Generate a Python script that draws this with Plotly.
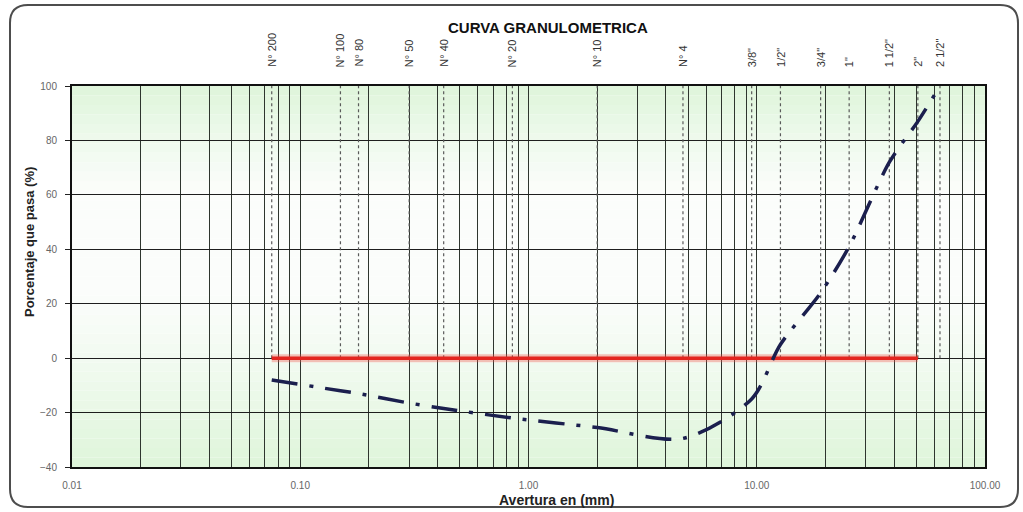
import math
import plotly.graph_objects as go

# Sieve series (opening in mm) and their labels
sieve_labels = ['N° 200', 'N° 100', 'N° 80', 'N° 50', 'N° 40', 'N° 20', 'N° 10', 'N° 4',
                '3/8"', '1/2"', '3/4"', '1"', '1 1/2"', '2"', '2 1/2"']
sieve_mm = [0.075, 0.15, 0.18, 0.3, 0.425, 0.85, 2.0, 4.75,
            9.5, 12.7, 19.05, 25.4, 38.1, 50.8, 63.5]

# Percent passing for each sieve
pct_pass = [-8, -12, -13, -16.5, -18.5, -22, -25.5, -29.5,
            -15, 5, 24, 41, 72, 87, 100]

# Reference (zero) line over the sieve range
ref_mm = sieve_mm[:-1]
ref_pct = [0] * len(ref_mm)

# Axis ticks
x_major = [0.01, 0.1, 1, 10, 100]
x_major_text = ['0.01', '0.10', '1.00', '10.00', '100.00']
y_ticks = [-40, -20, 0, 20, 40, 60, 80, 100]

W, H = 1023, 512
ML, MR, MT, MB = 72, 38, 86, 45
PW, PH = W - ML - MR, H - MT - MB

FONT = 'Liberation Sans, Arial, sans-serif'

# Log grid: every integer multiple within each decade
grid_vals, grid_text = [], []
for e in range(-2, 2):
    for k in range(1, 10):
        v = k * 10 ** e
        grid_vals.append(v)
        grid_text.append(x_major_text[x_major.index(v)] if k == 1 else '')
grid_vals.append(100)
grid_text.append('100.00')

fig = go.Figure()

# Dotted sieve lines from 0 to 100 %
dx, dy = [], []
for s in sieve_mm:
    dx += [s, s, None]
    dy += [0, 100, None]
fig.add_trace(go.Scatter(x=dx, y=dy, mode='lines', hoverinfo='skip',
                         line=dict(color='#5a5a5a', width=1.2, dash='dot'),
                         showlegend=False))

# Zero reference line
fig.add_trace(go.Scatter(x=ref_mm, y=ref_pct, mode='lines',
                         line=dict(color='rgba(240,80,70,0.35)', width=8),
                         hoverinfo='skip', showlegend=False))
fig.add_trace(go.Scatter(x=ref_mm, y=ref_pct, mode='lines',
                         line=dict(color='#e3261f', width=3.5),
                         showlegend=False))

# Grading curve
fig.add_trace(go.Scatter(x=sieve_mm, y=pct_pass, mode='lines',
                         line=dict(color='#1b1f4e', width=3.5, shape='spline',
                                   smoothing=0.8, dash='26px,12px,4px,12px'),
                         showlegend=False))

# Background: green at the edges fading to white in the middle
shapes = []
nb = 40
for i in range(nb):
    t = (i + 0.5) / nb  # 0 bottom .. 1 top
    c = 0.62
    d = abs(t - c) / (c if t < c else 1 - c)
    g = min(1.0, max(0.0, (d - 0.25) / 0.75)) ** 1.2
    r = int(round(251 - (251 - 222) * g))
    gg = int(round(253 - (253 - 245) * g))
    b = int(round(251 - (251 - 218) * g))
    shapes.append(dict(type='rect', xref='x domain', yref='y domain',
                       x0=0, x1=1, y0=i / nb, y1=(i + 1) / nb,
                       fillcolor=f'rgb({r},{gg},{b})', line=dict(width=0),
                       layer='below'))


# Rounded outer frame (pixel positions converted to paper coords)
def px(x):
    return (x - ML) / PW


def py(y):
    return 1 - (y - MT) / PH


L, R, T, B, rad = 10, 1018, 5, 507, 18
path = (f'M {px(L + rad)},{py(T)} L {px(R - rad)},{py(T)} '
        f'Q {px(R)},{py(T)} {px(R)},{py(T + rad)} '
        f'L {px(R)},{py(B - rad)} Q {px(R)},{py(B)} {px(R - rad)},{py(B)} '
        f'L {px(L + rad)},{py(B)} Q {px(L)},{py(B)} {px(L)},{py(B - rad)} '
        f'L {px(L)},{py(T + rad)} Q {px(L)},{py(T)} {px(L + rad)},{py(T)} Z')
shapes.append(dict(type='path', xref='paper', yref='paper', path=path,
                   line=dict(color='#4d4d4d', width=2), layer='above'))

annotations = []
for lab, s in zip(sieve_labels, sieve_mm):
    annotations.append(dict(x=math.log10(s), y=1, xref='x', yref='paper',
                            text=lab, showarrow=False, textangle=-90,
                            xanchor='center', yanchor='bottom', yshift=17,
                            font=dict(family=FONT, size=11, color='#333333')))

annotations.append(dict(x=px(548), y=py(28), xref='paper', yref='paper',
                        text='<b>CURVA GRANULOMETRICA</b>', showarrow=False,
                        xanchor='center', yanchor='middle',
                        font=dict(family=FONT, size=15, color='#111111')))
annotations.append(dict(x=px(30), y=py(242), xref='paper', yref='paper',
                        text='<b>Porcentaje que pasa (%)</b>', showarrow=False,
                        textangle=-90, xanchor='center', yanchor='middle',
                        font=dict(family=FONT, size=13, color='#222222')))
annotations.append(dict(x=px(556), y=py(500), xref='paper', yref='paper',
                        text='<b>Avertura en (mm)</b>', showarrow=False,
                        xanchor='center', yanchor='middle',
                        font=dict(family=FONT, size=14, color='#222222')))

fig.update_layout(
    width=W, height=H,
    margin=dict(l=ML, r=MR, t=MT, b=MB, pad=0),
    paper_bgcolor='white', plot_bgcolor='white',
    shapes=shapes, annotations=annotations,
    font=dict(family=FONT),
    showlegend=False,
)

fig.update_xaxes(type='log', range=[-2, 2], tickmode='array',
                 tickvals=grid_vals, ticktext=grid_text,
                 showgrid=True, gridcolor='#2e352e', gridwidth=1.2,
                 ticks='', ticklabelstandoff=8,
                 tickfont=dict(family=FONT, size=10, color='#666666'),
                 showline=True, linecolor='#111111', linewidth=2, mirror=True,
                 zeroline=False)
fig.update_yaxes(range=[-40, 100], tickmode='array', tickvals=y_ticks,
                 showgrid=True, gridcolor='#1e1e1e', gridwidth=1.4,
                 ticks='outside', ticklen=5, tickcolor='#222222',
                 ticklabelstandoff=6,
                 tickfont=dict(family=FONT, size=10, color='#666666'),
                 showline=True, linecolor='#111111', linewidth=2, mirror=True,
                 zeroline=False)

fig.write_html('out.html')
